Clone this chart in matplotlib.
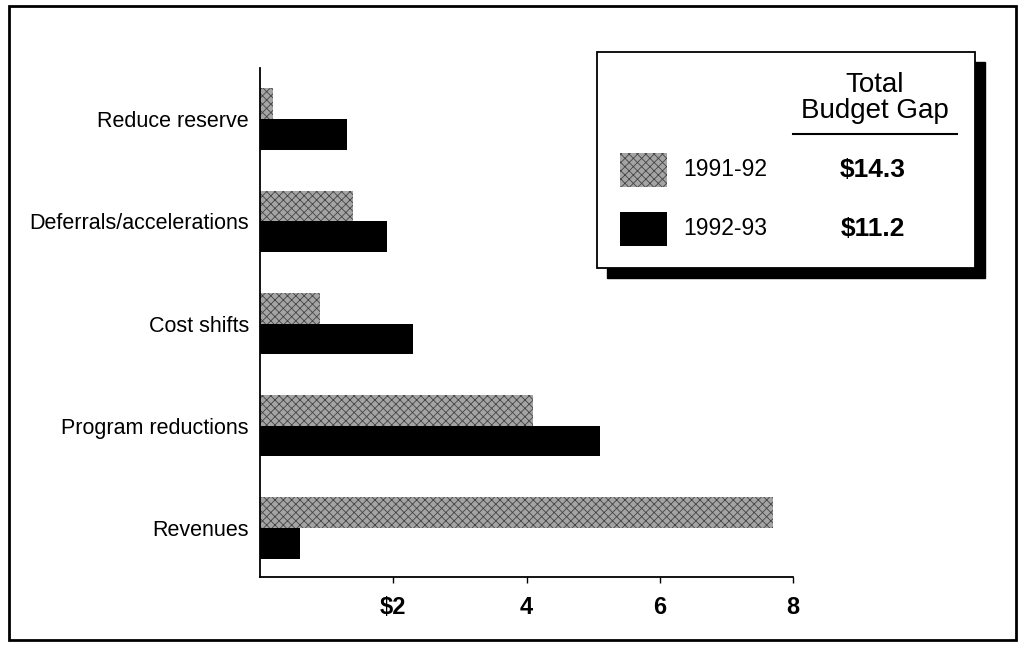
import matplotlib
matplotlib.use('Agg')
import matplotlib.pyplot as plt
from matplotlib.patches import Rectangle
from matplotlib import font_manager

# budget gap solutions, billions of dollars
categories = ['Revenues', 'Program reductions', 'Cost shifts',
              'Deferrals/accelerations', 'Reduce reserve']
years = ['1991-92', '1992-93']
gap_9192 = [7.7, 4.1, 0.9, 1.4, 0.2]
gap_9293 = [0.6, 5.1, 2.3, 1.9, 1.3]
tick_vals = [2, 4, 6, 8]
tick_text = ['$2', '4', '6', '8']

names = {f.name for f in font_manager.fontManager.ttflist}
narrow = 'Liberation Sans Narrow' if 'Liberation Sans Narrow' in names else 'Liberation Sans'
plt.rcParams['font.family'] = [narrow, 'DejaVu Sans']
plt.rcParams['hatch.linewidth'] = 0.6

grey_style = dict(facecolor='#a4a4a4', edgecolor='#444444', hatch='xxxx', linewidth=0)
black_style = dict(facecolor='black', edgecolor='black', linewidth=0)

fig = plt.figure(figsize=(10.19, 6.47), dpi=100)
ax = fig.add_axes([260 / 1019, 1 - 577 / 647, 533 / 1019, 509 / 647])

pos = list(range(len(categories)))
h = 0.3
ax.barh([p + h / 2 for p in pos], gap_9192, height=h, **grey_style)
ax.barh([p - h / 2 for p in pos], gap_9293, height=h, **black_style)

ax.set_xlim(0, 8)
ax.set_ylim(-0.48, 4.5)
ax.set_yticks(pos)
ax.set_yticklabels(categories, fontsize=15.5)
ax.tick_params(axis='y', length=0, pad=8)
ax.set_xticks(tick_vals)
ax.set_xticklabels(tick_text, fontsize=17, fontweight='bold')
ax.tick_params(axis='x', length=4, width=1, pad=10)
ax.spines['top'].set_visible(False)
ax.spines['right'].set_visible(False)
for s in ('left', 'bottom'):
    ax.spines[s].set_linewidth(1.3)

# outer frame
fig.patches.append(Rectangle((9 / 1019, 7 / 647), 1007 / 1019, 634 / 647,
                             transform=fig.transFigure, fill=False,
                             edgecolor='black', linewidth=2))

# legend box with drop shadow
bx, by, bw, bh = 597, 52, 378, 216
def fig_rect(x, y, w, hh, **kw):
    fig.patches.append(Rectangle((x / 1019, 1 - (y + hh) / 647), w / 1019, hh / 647,
                                 transform=fig.transFigure, **kw))

fig_rect(bx + 10, by + 10, bw, bh, facecolor='black', edgecolor='black')
fig_rect(bx, by, bw, bh, facecolor='white', edgecolor='black', linewidth=1.3)

fig.text(875 / 1019, 1 - 85 / 647, 'Total', ha='center', va='center', fontsize=20)
fig.text(875 / 1019, 1 - 111 / 647, 'Budget Gap', ha='center', va='center', fontsize=20)
fig.add_artist(plt.Line2D([793 / 1019, 957 / 1019], [1 - 134 / 647, 1 - 134 / 647],
                          transform=fig.transFigure, color='black', linewidth=1.5))

totals = [sum(gap_9192), sum(gap_9293)]
styles = [grey_style, black_style]
for i, (yr, tot, st) in enumerate(zip(years, totals, styles)):
    yc = 170 + i * 59
    fig_rect(620, yc - 17, 47, 34, **st)
    fig.text(683 / 1019, 1 - yc / 647, yr, ha='left', va='center', fontsize=16.5)
    fig.text(873 / 1019, 1 - yc / 647, f'${tot:.1f}', ha='center', va='center',
             fontsize=19, fontweight='bold')

fig.savefig('out.png', dpi=100)
